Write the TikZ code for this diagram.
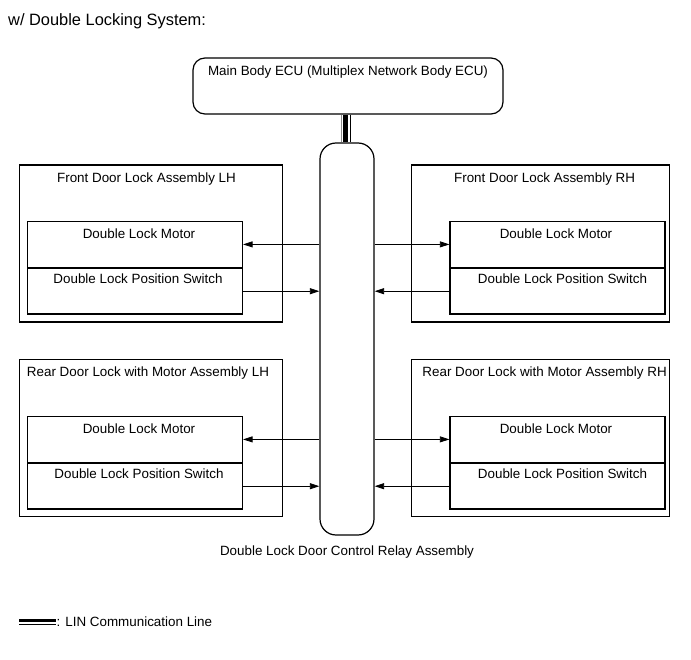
\documentclass[tikz,border=0pt]{standalone}
\usepackage{fontspec}
\setmainfont{Liberation Sans}
\usetikzlibrary{arrows.meta, positioning}

\begin{document}
\begin{tikzpicture}[x=1pt, y=-1pt,
		unit/.style={draw, line width=1.2pt, inner sep=0pt, minimum height=157pt},
		part/.style={draw, line width=1.2pt, inner sep=0pt, minimum width=215pt, minimum height=45.6pt},
		txt/.style={anchor=base, inner sep=0pt, font=\fontsize{13.4}{16}\selectfont},
		sig/.style={line width=0.8pt, -{Triangle[length=9.5pt, width=6pt]}}]
			\useasboundingbox (0,0) rectangle (691,660);
			% Heading
			\node[txt, anchor=base west, font=\fontsize{16.4}{19}\selectfont] (head) at (8,26)
				{w/ Double Locking System:};
			% Main body ECU and relay
			\node[draw, line width=1.2pt, rounded corners=12pt, minimum width=310pt,
				minimum height=56pt] (ecu) at (348,86) {};
			\node[txt] (ecu-t) at ([yshift=-17.7pt]ecu.north)
				{Main Body ECU (Multiplex Network Body ECU)};
			\node[draw, line width=1.2pt, rounded corners=16pt, minimum width=54pt,
				minimum height=392pt] (relay) at (347,339) {};
			\node[txt] (relay-t) at ([yshift=-19.6pt]relay.south)
				{Double Lock Door Control Relay Assembly};
			% LIN line
			\draw[line width=4.4pt] ([xshift=-2.5pt]ecu.south) -- ([xshift=-2.5pt]ecu.south |- relay.north);
			\draw[line width=0.7pt, black!45] ([xshift=-6.5pt]ecu.south) -- ([xshift=-6.5pt]ecu.south |- relay.north);
			\draw[line width=0.7pt] ([xshift=2pt]ecu.south) -- ([xshift=2pt]ecu.south |- relay.north);
			% Outer assemblies
			\node[unit, minimum width=263.4pt] (flh) at (151,243.5) {};
			\node[unit, minimum width=263.4pt] (rlh) at (151,438) {};
			\node[unit, minimum width=257.8pt] (frh) at (540.6,243.5) {};
			\node[unit, minimum width=257.8pt] (rrh) at (540.6,438) {};
			\node[txt] (flh-t) at ([xshift=-4.5pt, yshift=-18pt]flh.north) {Front Door Lock Assembly LH};
			\node[txt] (rlh-t) at ([xshift=-3pt, yshift=-18pt]rlh.north) {Rear Door Lock with Motor Assembly LH};
			\node[txt] (frh-t) at ([xshift=4pt, yshift=-18pt]frh.north) {Front Door Lock Assembly RH};
			\node[txt] (rrh-t) at ([xshift=4pt, yshift=-18pt]rrh.north) {Rear Door Lock with Motor Assembly RH};
			% Motor and position switch in each assembly
			\foreach \u/\x/\y/\dm/\ds in {flh/135/221/4/3, rlh/135/416/4/4, frh/557.5/221/-1.5/5, rrh/557.5/416/-1.5/5} {
				\node[part, anchor=north] (\u-m) at (\x,\y) {};
				\node[part, below=0pt of \u-m] (\u-s) {};
				\node[txt] (\u-mt) at ([xshift=\dm pt, yshift=-17.7pt]\u-m.north) {Double Lock Motor};
				\node[txt] (\u-st) at ([xshift=\ds pt, yshift=-16pt]\u-s.north) {Double Lock Position Switch};
			}
			% Signals
			\draw[sig] (relay.west |- flh-m.east) -- (flh-m.east);
			\draw[sig] (flh-s.east) -- (relay.west |- flh-s.east);
			\draw[sig] (relay.west |- rlh-m.east) -- (rlh-m.east);
			\draw[sig] (rlh-s.east) -- (relay.west |- rlh-s.east);
			\draw[sig] (relay.east |- frh-m.west) -- (frh-m.west);
			\draw[sig] (frh-s.west) -- (relay.east |- frh-s.west);
			\draw[sig] (relay.east |- rrh-m.west) -- (rrh-m.west);
			\draw[sig] (rrh-s.west) -- (relay.east |- rrh-s.west);
			% Legend
			\coordinate (lin-a) at (19,620.5);
			\coordinate (lin-b) at (56,620.5);
			\draw[line width=3pt] (lin-a) -- (lin-b);
			\draw[line width=0.7pt] ([yshift=-3.6pt]lin-a) -- ([yshift=-3.6pt]lin-b);
			\node[txt, anchor=base west] (lin-t) at (56.5,626.7) {: LIN Communication Line};
		\end{tikzpicture}
\end{document}
